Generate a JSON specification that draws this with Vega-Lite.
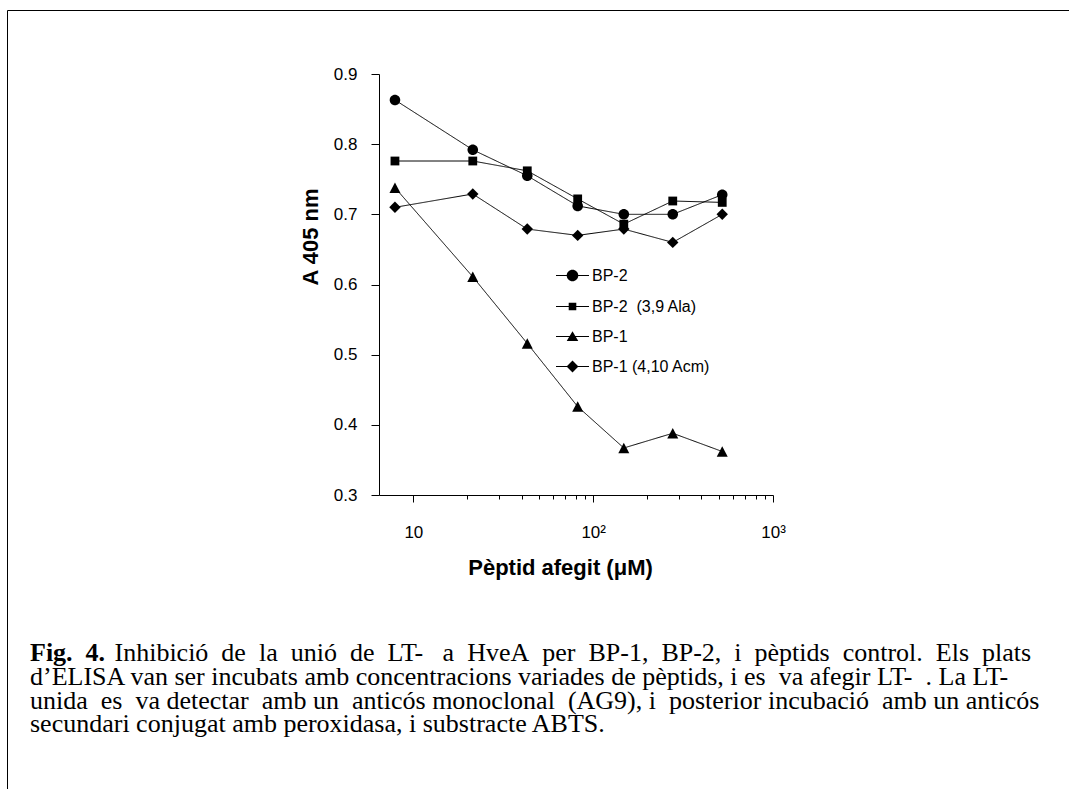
{
  "$schema": "https://vega.github.io/schema/vega-lite/v6.json",
  "autosize": "none",
  "width": 394,
  "height": 421,
  "padding": {"left": 379, "top": 74, "right": 296, "bottom": 294},
  "background": "white",
  "title": {
    "text": "Fig.\u00a0\u00a04.",
    "subtitle": [
      "\u200b\u00a0\u00a0\u00a0\u00a0\u00a0\u00a0\u00a0\u00a0\u00a0\u00a0\u00a0\u00a0\u00a0Inhibició\u00a0 de\u00a0 la\u00a0 unió\u00a0 de\u00a0 LT-\u00a0\u00a0\u00a0a\u00a0 HveA\u00a0 per\u00a0 BP-1,\u00a0 BP-2,\u00a0 i\u00a0 pèptids\u00a0 control.\u00a0 Els\u00a0 plats",
      "d’ELISA van ser incubats amb concentracions variades de pèptids, i es\u00a0 va afegir LT-\u00a0\u00a0. La LT-",
      "unida\u00a0 es\u00a0 va detectar\u00a0 amb un\u00a0 anticós monoclonal\u00a0 (AG9), i\u00a0 posterior incubació\u00a0 amb un anticós",
      "secundari conjugat amb peroxidasa, i substracte ABTS."
    ],
    "orient": "top",
    "anchor": "start",
    "frame": "group",
    "offset": -728,
    "dx": -349,
    "font": "Liberation Serif",
    "fontSize": 26,
    "fontWeight": "bold",
    "color": "black",
    "subtitleFont": "Liberation Serif",
    "subtitleFontSize": 26,
    "subtitleFontWeight": "normal",
    "subtitleColor": "black",
    "subtitleLineHeight": 23.7,
    "subtitlePadding": -26
  },
  "data": {
    "values": [
      {"series": "BP-2", "conc": 7.9, "abs": 0.863},
      {"series": "BP-2", "conc": 21.4, "abs": 0.792},
      {"series": "BP-2", "conc": 43, "abs": 0.755},
      {"series": "BP-2", "conc": 82, "abs": 0.712},
      {"series": "BP-2", "conc": 148, "abs": 0.700},
      {"series": "BP-2", "conc": 277, "abs": 0.700},
      {"series": "BP-2", "conc": 522, "abs": 0.728},
      {"series": "BP-2\u00a0\u00a0(3,9 Ala)", "conc": 7.9, "abs": 0.776},
      {"series": "BP-2\u00a0\u00a0(3,9 Ala)", "conc": 21.4, "abs": 0.776},
      {"series": "BP-2\u00a0\u00a0(3,9 Ala)", "conc": 43, "abs": 0.762},
      {"series": "BP-2\u00a0\u00a0(3,9 Ala)", "conc": 82, "abs": 0.722},
      {"series": "BP-2\u00a0\u00a0(3,9 Ala)", "conc": 148, "abs": 0.686},
      {"series": "BP-2\u00a0\u00a0(3,9 Ala)", "conc": 277, "abs": 0.719},
      {"series": "BP-2\u00a0\u00a0(3,9 Ala)", "conc": 522, "abs": 0.717},
      {"series": "BP-1", "conc": 7.9, "abs": 0.738},
      {"series": "BP-1", "conc": 21.4, "abs": 0.611},
      {"series": "BP-1", "conc": 43, "abs": 0.516},
      {"series": "BP-1", "conc": 82, "abs": 0.426},
      {"series": "BP-1", "conc": 148, "abs": 0.367},
      {"series": "BP-1", "conc": 277, "abs": 0.388},
      {"series": "BP-1", "conc": 522, "abs": 0.362},
      {"series": "BP-1 (4,10 Acm)", "conc": 7.9, "abs": 0.710},
      {"series": "BP-1 (4,10 Acm)", "conc": 21.4, "abs": 0.729},
      {"series": "BP-1 (4,10 Acm)", "conc": 43, "abs": 0.679},
      {"series": "BP-1 (4,10 Acm)", "conc": 82, "abs": 0.670},
      {"series": "BP-1 (4,10 Acm)", "conc": 148, "abs": 0.679},
      {"series": "BP-1 (4,10 Acm)", "conc": 277, "abs": 0.660},
      {"series": "BP-1 (4,10 Acm)", "conc": 522, "abs": 0.700}
    ]
  },
  "encoding": {
    "x": {
      "field": "conc",
      "type": "quantitative",
      "scale": {"type": "log", "domain": [6.44, 1000], "nice": false},
      "axis": {
        "values": [10, 20, 30, 40, 50, 60, 70, 80, 90, 100, 200, 300, 400, 500, 600, 700, 800, 900, 1000],
        "labelExpr": "datum.value == 10 ? '10' : datum.value == 100 ? '10²' : datum.value == 1000 ? '10³' : ''",
        "tickSize": {"condition": {"test": "datum.value == 10 || datum.value == 100 || datum.value == 1000", "value": 7}, "value": 4},
        "grid": false,
        "domainColor": "black",
        "tickColor": "black",
        "labelFont": "Liberation Sans",
        "labelFontSize": 17,
        "labelColor": "black",
        "labelPadding": 22,
        "labelFlush": false,
        "labelOverlap": false,
        "labelBound": false,
        "title": "Pèptid afegit (μM)",
        "titleFont": "Liberation Sans",
        "titleFontSize": 22,
        "titleFontWeight": "bold",
        "titleColor": "black",
        "titleX": 181,
        "titleY": 79,
        "titleAlign": "center",
        "titleBaseline": "alphabetic"
      }
    },
    "y": {
      "field": "abs",
      "type": "quantitative",
      "scale": {"domain": [0.3, 0.9], "nice": false, "zero": false},
      "axis": {
        "values": [0.3, 0.4, 0.5, 0.6, 0.7, 0.8, 0.9],
        "format": ".1f",
        "tickSize": 8,
        "grid": false,
        "domainColor": "black",
        "tickColor": "black",
        "labelFont": "Liberation Sans",
        "labelFontSize": 17,
        "labelColor": "black",
        "labelPadding": 14,
        "labelFlush": false,
        "labelOverlap": false,
        "title": "A 405 nm",
        "titleFont": "Liberation Sans",
        "titleFontSize": 22,
        "titleFontWeight": "bold",
        "titleColor": "black",
        "titleX": -62,
        "titleY": 162.5,
        "titleAlign": "center",
        "titleBaseline": "alphabetic"
      }
    }
  },
  "layer": [
    {
      "mark": {"type": "line", "color": "black", "strokeWidth": 1},
      "encoding": {
        "detail": {"field": "series", "type": "nominal"},
        "strokeDash": {
          "datum": "ELISA",
          "type": "nominal",
          "scale": {"range": [[1, 0]]},
          "legend": {
            "orient": "none",
            "legendX": -372,
            "legendY": -64,
            "title": null,
            "padding": 1200,
            "strokeColor": "black",
            "symbolOpacity": 0,
            "labelExpr": "''"
          }
        }
      }
    },
    {
      "mark": {"type": "point", "filled": true, "color": "black", "opacity": 1, "size": 121},
      "encoding": {
        "shape": {
          "field": "series",
          "type": "nominal",
          "scale": {
            "domain": ["BP-2", "BP-2\u00a0\u00a0(3,9 Ala)", "BP-1", "BP-1 (4,10 Acm)"],
            "range": [
              "M0.96,0A0.96,0.96,0,1,1,-0.96,0A0.96,0.96,0,1,1,0.96,0Z",
              "M-0.8,-0.8H0.8V0.8H-0.8Z",
              "M0,-0.95L1,0.95H-1Z",
              "M-1.04,0L0,-1.04L1.04,0L0,1.04Z"
            ]
          },
          "legend": null
        }
      }
    },
    {
      "mark": {"type": "point", "filled": true, "color": "black", "opacity": 0, "size": 1089},
      "encoding": {
        "shape": {
          "field": "series",
          "type": "nominal",
          "scale": {
            "domain": ["BP-2", "BP-2\u00a0\u00a0(3,9 Ala)", "BP-1", "BP-1 (4,10 Acm)"],
            "range": [
              "M-1,-0.03H1V0.03H-1ZM0.35,0A0.35,0.35,0,1,1,-0.35,0A0.35,0.35,0,1,1,0.35,0Z",
              "M-1,-0.03H1V0.03H-1ZM-0.23,-0.23H0.23V0.23H-0.23Z",
              "M-1,-0.03H1V0.03H-1ZM0,-0.32L0.35,0.28H-0.35Z",
              "M-1,-0.03H1V0.03H-1ZM-0.36,0L0,-0.36L0.36,0L0,0.36Z"
            ]
          },
          "legend": {
            "orient": "none",
            "legendX": 176,
            "legendY": 184,
            "title": null,
            "padding": 0,
            "labelFont": "Liberation Sans",
            "labelFontSize": 16,
            "labelColor": "black",
            "labelOffset": 2,
            "symbolSize": 1089,
            "symbolOpacity": 1,
            "symbolFillColor": "black",
            "rowPadding": 4
          }
        }
      }
    }
  ],
  "resolve": {"scale": {"shape": "independent"}},
  "config": {
    "view": {"stroke": null}
  }
}
